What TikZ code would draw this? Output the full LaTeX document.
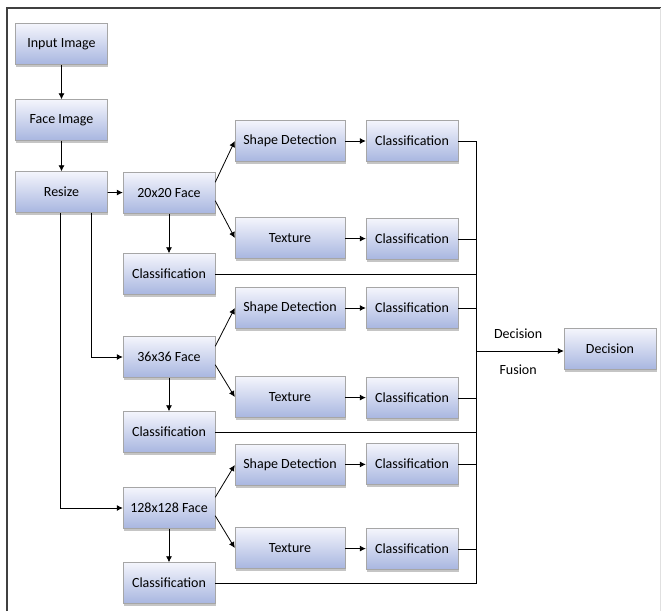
\documentclass[tikz,border=0pt]{standalone}
\usepackage{fontspec}
\setmainfont{Carlito}
\usetikzlibrary{arrows.meta, shadows}
\definecolor{boxtop}{HTML}{F4F5FC}
\definecolor{boxbot}{HTML}{A8B6E0}

\begin{document}
\begin{tikzpicture}[
  x=1pt,
  y=-1pt,
  blk/.style={draw=black!35, top color=boxtop, bottom color=boxbot,
    minimum width=92pt, minimum height=41pt, inner sep=0pt, font=\fontsize{14}{16}\selectfont,
    drop shadow={shadow xshift=0.5pt, shadow yshift=-2.5pt, fill=black!45, opacity=0.5}},
  wblk/.style={blk, minimum width=110pt},
  arr/.style={-{Latex[length=6pt, width=6pt]}, line width=0.8pt},
  link/.style={line width=0.8pt}
  ]
    \useasboundingbox (0,0) rectangle (661,611);
    % Frame
    \draw[black!75, line width=1.2pt] (7,611) -- (7,8) -- (661,8);
    \draw[black!12] (660,8) -- (660,611);

    % left column
    \node[blk] (inimg) at (61.5,44) {Input Image};
    \node[blk] (faceimg) at (61.5,120) {Face Image};
    \node[blk] (resize) at (61.5,192) {Resize};

    % 3 scales
    \node[blk] (f20) at (169,193) {20x20 Face};
    \node[blk] (c20) at (169,274) {Classification};
    \node[blk] (f36) at (169,357) {36x36 Face};
    \node[blk] (c36) at (169,432) {Classification};
    \node[blk] (f128) at (169,508) {128x128 Face};
    \node[blk] (c128) at (169,583) {Classification};

    % shape / texture
    \node[wblk] (sd1) at (290,141) {Shape Detection};
    \node[wblk] (tx1) at (290,238) {Texture};
    \node[wblk] (sd2) at (290,308) {Shape Detection};
    \node[wblk] (tx2) at (290,397) {Texture};
    \node[wblk] (sd3) at (290,465) {Shape Detection};
    \node[wblk] (tx3) at (290,548) {Texture};

    % classification column
    \node[blk] (cl1) at (412,141) {Classification};
    \node[blk] (cl2) at (412,239) {Classification};
    \node[blk] (cl3) at (412,308) {Classification};
    \node[blk] (cl4) at (412,398) {Classification};
    \node[blk] (cl5) at (412,464) {Classification};
    \node[blk] (cl6) at (412,549) {Classification};

    \node[blk] (dec) at (610,349) {Decision};

    \coordinate (ctop) at (476,141);
    \coordinate (cbot) at (476,583);
    \coordinate (fuse) at (476,351);

    % arrows
    \draw[arr] (inimg) -- (faceimg);
    \draw[arr] (faceimg) -- (resize);
    \draw[arr] (resize) -- (f20);
    \draw[arr] ([xshift=30pt]resize.south) |- (f36.west);
    \draw[arr] ([xshift=-1.5pt]resize.south) |- (f128.west);

    \draw[arr] (f20) -- (c20);
    \draw[arr] (f36) -- (c36);
    \draw[arr] (f128) -- (c128);

    \draw[arr] ([yshift=-10pt]f20.north east) -- (sd1.west);
    \draw[arr] ([yshift=13pt]f20.south east) -- (tx1.west);
    \draw[arr] ([yshift=-10pt]f36.north east) -- (sd2.west);
    \draw[arr] ([yshift=13pt]f36.south east) -- (tx2.west);
    \draw[arr] ([yshift=-10pt]f128.north east) -- (sd3.west);
    \draw[arr] ([yshift=13pt]f128.south east) -- (tx3.west);

    \draw[arr] (sd1) -- (cl1);
    \draw[arr] (tx1) -- (cl2);
    \draw[arr] (sd2) -- (cl3);
    \draw[arr] (tx2) -- (cl4);
    \draw[arr] (sd3) -- (cl5);
    \draw[arr] (tx3) -- (cl6);

    % fusion
    \draw[link] (cl1.east) -- (ctop) -- (cbot) -- (c128.east);
    \draw[link] (cl2.east) -- (cl2.east -| ctop);
    \draw[link] (c20.east) -- (c20.east -| ctop);
    \draw[link] (cl3.east) -- (cl3.east -| ctop);
    \draw[link] (cl4.east) -- (cl4.east -| ctop);
    \draw[link] (c36.east) -- (c36.east -| ctop);
    \draw[link] (cl5.east) -- (cl5.east -| ctop);
    \draw[link] (cl6.east) -- (cl6.east -| ctop);
    \draw[arr] (fuse) -- (fuse -| dec.west)
      node[pos=0.48, above=9pt, font=\fontsize{14}{16}\selectfont] (fl1) {Decision}
      node[pos=0.48, below=10pt, font=\fontsize{14}{16}\selectfont] (fl2) {Fusion};

\end{tikzpicture}
\end{document}
